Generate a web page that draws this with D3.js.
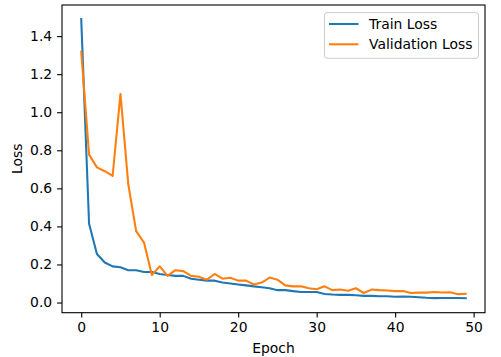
<!DOCTYPE html>
<html>
<head>
<meta charset="utf-8">
<script src="https://cdn.jsdelivr.net/npm/d3@7"></script>
<style>
  body { margin: 0; background: #fff; }
  text { font-family: "DejaVu Sans", sans-serif; }
</style>
</head>
<body>
<div id="chart"></div>
<script>
// loss per epoch
var epochs = d3.range(0, 50);
var trainLoss = [1.49, 0.414, 0.255, 0.21, 0.19, 0.185, 0.17, 0.17, 0.16, 0.16,
    0.15, 0.145, 0.14, 0.14, 0.125, 0.12, 0.115, 0.115, 0.105, 0.10,
    0.095, 0.09, 0.085, 0.08, 0.075, 0.065, 0.065, 0.06, 0.055, 0.055,
    0.055, 0.045, 0.042, 0.04, 0.04, 0.038, 0.035, 0.035, 0.033, 0.033,
    0.03, 0.032, 0.03, 0.028, 0.025, 0.023, 0.024, 0.024, 0.024, 0.023];
var valLoss = [1.318, 0.777, 0.71, 0.69, 0.665, 1.096, 0.62, 0.375, 0.315, 0.145,
    0.19, 0.14, 0.17, 0.165, 0.14, 0.135, 0.12, 0.15, 0.125, 0.13,
    0.115, 0.115, 0.095, 0.105, 0.131, 0.12, 0.09, 0.085, 0.085, 0.075,
    0.07, 0.085, 0.065, 0.068, 0.062, 0.075, 0.05, 0.068, 0.065, 0.063,
    0.06, 0.06, 0.05, 0.052, 0.052, 0.055, 0.053, 0.054, 0.044, 0.046];
var xTicks = [0, 10, 20, 30, 40, 50];
var yTicks = [0.0, 0.2, 0.4, 0.6, 0.8, 1.0, 1.2, 1.4];
var seriesNames = ["Train Loss", "Validation Loss"];
var seriesColors = ["#1f77b4", "#ff7f0e"];

var width = 501, height = 357;
var axL = 62, axT = 5, axR = 485, axB = 312.7;
var fontSize = 13.9;

var svg = d3.select("#chart").append("svg")
    .attr("width", width)
    .attr("height", height);

// matplotlib style 5% margins
var x = d3.scaleLinear().domain([-2.45, 51.45]).range([axL, axR]);
var y = d3.scaleLinear().domain([-0.0535, 1.5635]).range([axB, axT]);

var plot = svg.append("g");

var line = d3.line()
    .x(function (d, i) { return x(epochs[i]); })
    .y(function (d) { return y(d); });

[trainLoss, valLoss].forEach(function (s, k) {
    plot.append("path")
        .datum(s)
        .attr("d", line)
        .attr("fill", "none")
        .attr("stroke", seriesColors[k])
        .attr("stroke-width", 2.08)
        .attr("stroke-linejoin", "round")
        .attr("stroke-linecap", "square");
});

// frame
svg.append("rect")
    .attr("x", axL).attr("y", axT)
    .attr("width", axR - axL).attr("height", axB - axT)
    .attr("fill", "none").attr("stroke", "#000").attr("stroke-width", 1.1);

// axes
var xAxis = d3.axisBottom(x).tickValues(xTicks).tickSize(4.9).tickPadding(4.9)
    .tickFormat(d3.format("d"));
var yAxis = d3.axisLeft(y).tickValues(yTicks).tickSize(4.9).tickPadding(4.9)
    .tickFormat(d3.format(".1f"));

var gx = svg.append("g").attr("transform", "translate(0," + axB + ")").call(xAxis);
var gy = svg.append("g").attr("transform", "translate(" + axL + ",0)").call(yAxis);
[gx, gy].forEach(function (g) {
    g.select(".domain").remove();
    g.selectAll(".tick line").attr("stroke", "#000").attr("stroke-width", 1.1);
    g.selectAll(".tick text").attr("fill", "#000")
        .style("font-size", fontSize + "px")
        .style("font-family", "DejaVu Sans, sans-serif");
});

// axis labels
svg.append("text")
    .attr("x", (axL + axR) / 2)
    .attr("y", 353)
    .attr("text-anchor", "middle")
    .style("font-size", fontSize + "px")
    .text("Epoch");

svg.append("text")
    .attr("transform", "translate(22," + ((axT + axB) / 2) + ") rotate(-90)")
    .attr("text-anchor", "middle")
    .style("font-size", fontSize + "px")
    .text("Loss");

// legend
var legend = svg.append("g");
legend.append("rect")
    .attr("x", 324.5).attr("y", 12.7)
    .attr("width", 154).attr("height", 45.6)
    .attr("rx", 2.5)
    .attr("fill", "#fff").attr("fill-opacity", 0.8)
    .attr("stroke", "#ccc").attr("stroke-width", 1);

seriesNames.forEach(function (name, i) {
    var ly = 24 + i * 20.3;
    legend.append("line")
        .attr("x1", 329).attr("x2", 358.5)
        .attr("y1", ly).attr("y2", ly)
        .attr("stroke", seriesColors[i]).attr("stroke-width", 2.08);
    legend.append("text")
        .attr("x", 369).attr("y", ly + 5)
        .style("font-size", fontSize + "px")
        .text(name);
});
</script>
</body>
</html>
